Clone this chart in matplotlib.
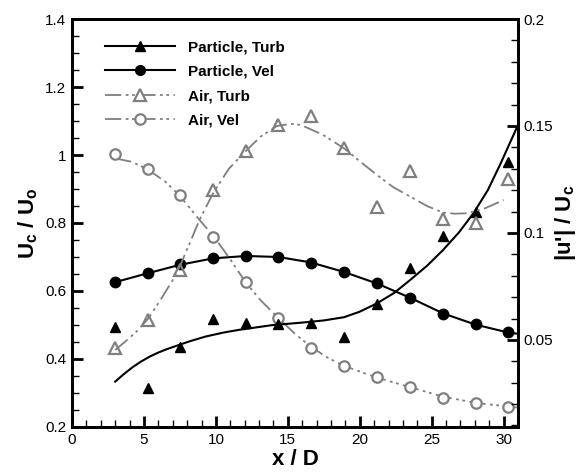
import numpy as np
import matplotlib
matplotlib.use("Agg")
import matplotlib.pyplot as plt
from matplotlib.lines import Line2D
from matplotlib.ticker import MultipleLocator

plt.rcParams['font.family'] = ['Liberation Sans', 'DejaVu Sans']
plt.rcParams['mathtext.fontset'] = 'custom'
plt.rcParams['mathtext.rm'] = 'Liberation Sans'
plt.rcParams['mathtext.bf'] = 'Liberation Sans:bold'

# measured stations x/D
x_pts = [3.0, 5.25, 7.5, 9.8, 12.1, 14.35, 16.6, 18.9, 21.2, 23.5, 25.8, 28.05, 30.3]

# centreline velocity (left axis)
part_vel = [0.626, 0.652, 0.679, 0.697, 0.703, 0.701, 0.683, 0.655, 0.623, 0.580, 0.532, 0.502, 0.478]
air_vel = [1.002, 0.959, 0.882, 0.760, 0.626, 0.520, 0.431, 0.379, 0.346, 0.318, 0.286, 0.271, 0.260]

# turbulence intensity (right axis)
part_turb = [0.0562, 0.0274, 0.0466, 0.0597, 0.0581, 0.0575, 0.0581, 0.0513, 0.0668, 0.0838, 0.0986, 0.1100, 0.1330]
air_turb = [0.0461, 0.0593, 0.0827, 0.1201, 0.1385, 0.1505, 0.1547, 0.1399, 0.1123, 0.1291, 0.1064, 0.1048, 0.1252]

# fitted curves
pv_fit_x = [3.0, 5.25, 7.5, 9.8, 12.1, 14.35, 16.6, 18.9, 21.2, 23.5, 25.8, 28.05, 30.3, 31.0]
pv_fit_y = [0.626, 0.652, 0.677, 0.696, 0.703, 0.700, 0.684, 0.656, 0.622, 0.580, 0.534, 0.501, 0.478, 0.474]

av_fit_x = [3.0, 4.15, 5.25, 6.5, 7.45, 8.86, 9.83, 11.0, 12.04, 13.08, 14.38, 15.5, 16.6, 17.8,
            18.9, 21.2, 23.5, 25.8, 28.05, 30.3, 31.0]
av_fit_y = [0.99, 0.980, 0.958, 0.921, 0.882, 0.809, 0.762, 0.693, 0.627, 0.574, 0.519, 0.474, 0.436, 0.403,
            0.380, 0.345, 0.317, 0.289, 0.271, 0.260, 0.257]

pt_fit_x = [3.0, 3.6, 4.2, 4.8, 5.4, 6.0, 6.6, 7.2, 8.2, 9.3, 10.5, 11.6, 13.9, 16.0, 17.5, 18.9, 20.0,
            21.2, 22.4, 23.5, 24.7, 25.8, 26.9, 27.9, 28.9, 29.8, 31.0]
pt_fit_y = [0.0305, 0.0340, 0.0372, 0.0399, 0.0422, 0.0441, 0.0457, 0.0471, 0.0494, 0.0516, 0.0534, 0.0547,
            0.0569, 0.0581, 0.0591, 0.0606, 0.0632, 0.0671, 0.0720, 0.0780, 0.0848, 0.0921, 0.1003, 0.1092,
            0.1200, 0.1326, 0.1505]

at_fit_x = [3.0, 3.7, 4.5, 5.3, 6.15, 7.0, 7.5, 8.2, 8.86, 9.8, 10.9, 12.04, 13.1, 14.25, 15.2,
            15.9, 17.4, 18.9, 20.0, 21.2, 22.3, 23.5, 24.7, 25.8, 26.6, 27.5, 28.7, 30.0]
at_fit_y = [0.0453, 0.0492, 0.0540, 0.0600, 0.0687, 0.0780, 0.0845, 0.0955, 0.1061, 0.1185, 0.1300, 0.1380,
            0.1450, 0.1500, 0.1510, 0.1505, 0.1460, 0.1396, 0.1335, 0.1271, 0.1215, 0.1170, 0.1125, 0.1095,
            0.1090, 0.1092, 0.1115, 0.1154]

black = 'black'
grey = '#7f7f7f'
ddash = (0, (9, 2.5, 1.5, 2, 1.5, 2.5))

fig = plt.figure(figsize=(5.87, 4.73), dpi=100)
ax1 = fig.add_axes([0.1227, 0.0973, 0.7598, 0.8625])
ax2 = ax1.twinx()

# left axis: velocities
ax1.plot(pv_fit_x, pv_fit_y, color=black, lw=1.5)
ax1.plot(x_pts, part_vel, 'o', color=black, ms=7.5)
ax1.plot(av_fit_x, av_fit_y, color=grey, lw=1.3, linestyle=ddash)
ax1.plot(x_pts, air_vel, 'o', mfc='white', mec=grey, mew=1.6, ms=7.5)

# right axis: turbulence
ax2.plot(pt_fit_x, pt_fit_y, color=black, lw=1.5)
ax2.plot(x_pts, part_turb, '^', color=black, ms=7.5)
ax2.plot(at_fit_x, at_fit_y, color=grey, lw=1.3, linestyle=ddash)
ax2.plot(x_pts, air_turb, '^', mfc='none', mec=grey, mew=1.6, ms=8)

ax1.set_xlim(0, 31)
ax1.set_ylim(0.2, 1.4)
ax2.set_ylim(0.0093, 0.2)

ax1.xaxis.set_minor_locator(MultipleLocator(1))
ax1.yaxis.set_minor_locator(MultipleLocator(0.05))
ax2.yaxis.set_minor_locator(MultipleLocator(0.01))
ax1.set_xticks([0, 5, 10, 15, 20, 25, 30])
ax1.set_xticklabels(['0', '5', '10', '15', '20', '25', '30'])
ax1.set_yticks([0.2, 0.4, 0.6, 0.8, 1.0, 1.2, 1.4])
ax1.set_yticklabels(['0.2', '0.4', '0.6', '0.8', '1', '1.2', '1.4'])
ax2.set_yticks([0.05, 0.1, 0.15, 0.2])
ax2.set_yticklabels(['0.05', '0.1', '0.15', '0.2'])

for ax in (ax1, ax2):
    ax.tick_params(which='major', direction='in', length=8, width=2, labelsize=11, pad=4)
    ax.tick_params(which='minor', direction='in', length=5, width=1)
    for s in ax.spines.values():
        s.set_linewidth(2)
ax1.tick_params(axis='y', which='both', right=False)
ax1.tick_params(axis='x', which='both', top=False)
ax2.tick_params(axis='y', which='both', left=False)

ax1.set_xlabel('x / D', fontsize=16, fontweight='bold', labelpad=2)
ax1.set_ylabel(r'$\mathbf{U_c}$ / $\mathbf{U_o}$', fontsize=16, fontweight='bold', labelpad=4)
ax2.set_ylabel(r"|u'| / $\mathbf{U_c}$", fontsize=16, fontweight='bold', labelpad=0)

handles = [
    Line2D([], [], color=black, lw=1.5, marker='^', ms=7),
    Line2D([], [], color=black, lw=1.5, marker='o', ms=7),
    Line2D([], [], color=grey, lw=1.3, linestyle=ddash, marker='^', mfc='white', mec=grey, mew=1.6, ms=8),
    Line2D([], [], color=grey, lw=1.3, linestyle=ddash, marker='o', mfc='white', mec=grey, mew=1.6, ms=7.5),
]
labels = ['Particle, Turb', 'Particle, Vel', 'Air, Turb', 'Air, Vel']
leg = ax2.legend(handles, labels, loc='upper left', bbox_to_anchor=(0.074, 0.948),
                 frameon=False, numpoints=1, handlelength=4.6, handletextpad=0.85,
                 labelspacing=0.68, borderpad=0, borderaxespad=0,
                 prop={'weight': 'bold', 'size': 11})

fig.savefig('out.png', dpi=100)
